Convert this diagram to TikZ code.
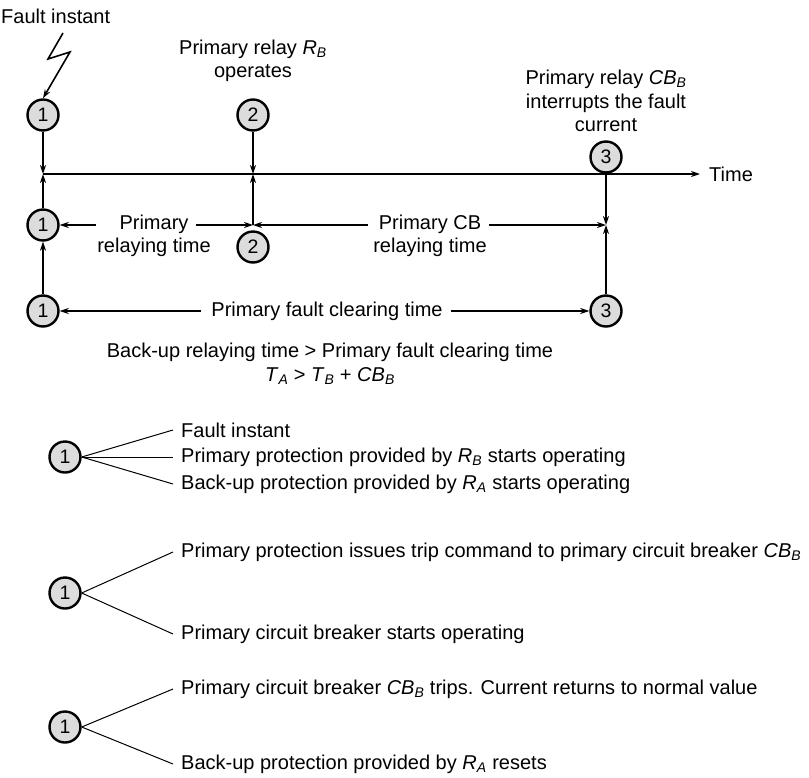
\documentclass[tikz,border=0pt]{standalone}
\usepackage{fontspec}
\setmainfont{Liberation Sans}
\definecolor{eventGray}{HTML}{DCDCDC}
\usetikzlibrary{
	arrows.meta,
	positioning,
	calc
}
\newcommand{\qsub}[2]{\textit{#1}\textsubscript{\textit{#2}}}
\tikzset{
	evento/.style={
		circle,
		draw=black,
		line width=2.4pt,
		fill=eventGray,
		minimum size=31pt,
		inner sep=0pt,
		font=\fontsize{19.5}{22}\selectfont
	},
	texto/.style={
		align=center,
		inner sep=0pt,
		font=\fontsize{20}{23.5}\selectfont
	},
	flecha/.style={
		-{Stealth[length=9pt,width=6pt]},
		line width=1.6pt
	},
	rama/.style={
		line width=1pt
	}
}
\begin{document}
\begin{tikzpicture}[x=1pt, y=-1pt]
		\useasboundingbox (0,0) rectangle (809,777);
		% upper time chart
		\node[texto, anchor=west] (falla) at (1,16) {Fault instant};
		\node[texto] (relevoB) at (253,61) {Primary relay \qsub{R}{B}\\operates};
		\node[texto] (interrumpe) at (606,101) {Primary relay \qsub{CB}{B}\\interrupts the fault\\current};
		\node[evento] (a1) at (43,115) {1};
		\node[evento] (a2) at (253,115) {2};
		\node[evento] (a3) at (606,157) {3};
		\coordinate (t0) at (43,174);
		\coordinate (t2) at (253,174);
		\coordinate (tfin) at (700,174);
		\node[texto, anchor=west] (tiempo) at (709,174) {Time};
		\draw[flecha] (t0) -- (tfin);
		\draw[flecha] (63,33) -- (48,59) -- (70,52) -- (a1.north);
		\draw[flecha] (a1) -- (t0);
		\draw[flecha] (a2) -- (t2);
		% middle row
		\node[evento] (b1) at (43,225) {1};
		\node[evento] (b2) at (253,247) {2};
		\coordinate (j2) at (253,225);
		\coordinate (j3) at (606,225);
		\node[texto] (relayingP) at (154,236) {Primary\\relaying time};
		\node[texto] (relayingCB) at (430,236) {Primary CB\\relaying time};
		\draw[flecha] (b1) -- (t0);
		\draw[flecha] (j2) -- (t2);
		\draw[flecha] ([xshift=-1pt]relayingP.west |- j2) -- (b1);
		\draw[flecha] ([xshift=-15pt]relayingP.east |- j2) -- (j2);
		\draw[flecha] ([xshift=-5pt]relayingCB.west |- j2) -- (j2);
		\draw[flecha] ([xshift=2pt]relayingCB.east |- j3) -- (j3);
		\draw[flecha] (a3) -- (j3);
		% bottom row
		\node[evento] (c1) at (43,311) {1};
		\node[evento] (c3) at (606,311) {3};
		\node[texto] (despeje) at (327,311) {Primary fault clearing time};
		\draw[flecha] (c1) -- (b1);
		\draw[flecha] (c3) -- (j3);
		\draw[flecha] ([xshift=-10pt]despeje.west) -- (c1);
		\draw[flecha] ([xshift=8pt]despeje.east) -- (c3);
		\node[texto] (condicion) at (330,364) {Back-up relaying time > Primary fault clearing time\\
			\textit{T}\textsubscript{\textit{A}} > \textit{T}\textsubscript{\textit{B}} + \qsub{CB}{B}};
		% legend
		\node[evento] (g1) at (65,457) {1};
		\node[texto, anchor=west] (g1a) at (181,430) {Fault instant};
		\node[texto, anchor=west] (g1b) at (181,457) {Primary protection provided by \qsub{R}{B} starts operating};
		\node[texto, anchor=west] (g1c) at (181,484) {Back-up protection provided by \qsub{R}{A} starts operating};
		\foreach \fin in {g1a,g1b,g1c}
			\draw[rama] (g1.east) -- ([xshift=-8pt]\fin.west);
		\node[evento] (g2) at (65,593) {1};
		\node[texto, anchor=west] (g2a) at (181,552) {Primary protection issues trip command to primary circuit breaker \qsub{CB}{B}};
		\node[texto, anchor=west] (g2b) at (181,634) {Primary circuit breaker starts operating};
		\foreach \fin in {g2a,g2b}
			\draw[rama] (g2.east) -- ([xshift=-8pt]\fin.west);
		\node[evento] (g3) at (65,727) {1};
		\node[texto, anchor=west] (g3a) at (181,689) {Primary circuit breaker \qsub{CB}{B} trips. Current returns to normal value};
		\node[texto, anchor=west] (g3b) at (181,764) {Back-up protection provided by \qsub{R}{A} resets};
		\foreach \fin in {g3a,g3b}
			\draw[rama] (g3.east) -- ([xshift=-8pt]\fin.west);
	\end{tikzpicture}
\end{document}
